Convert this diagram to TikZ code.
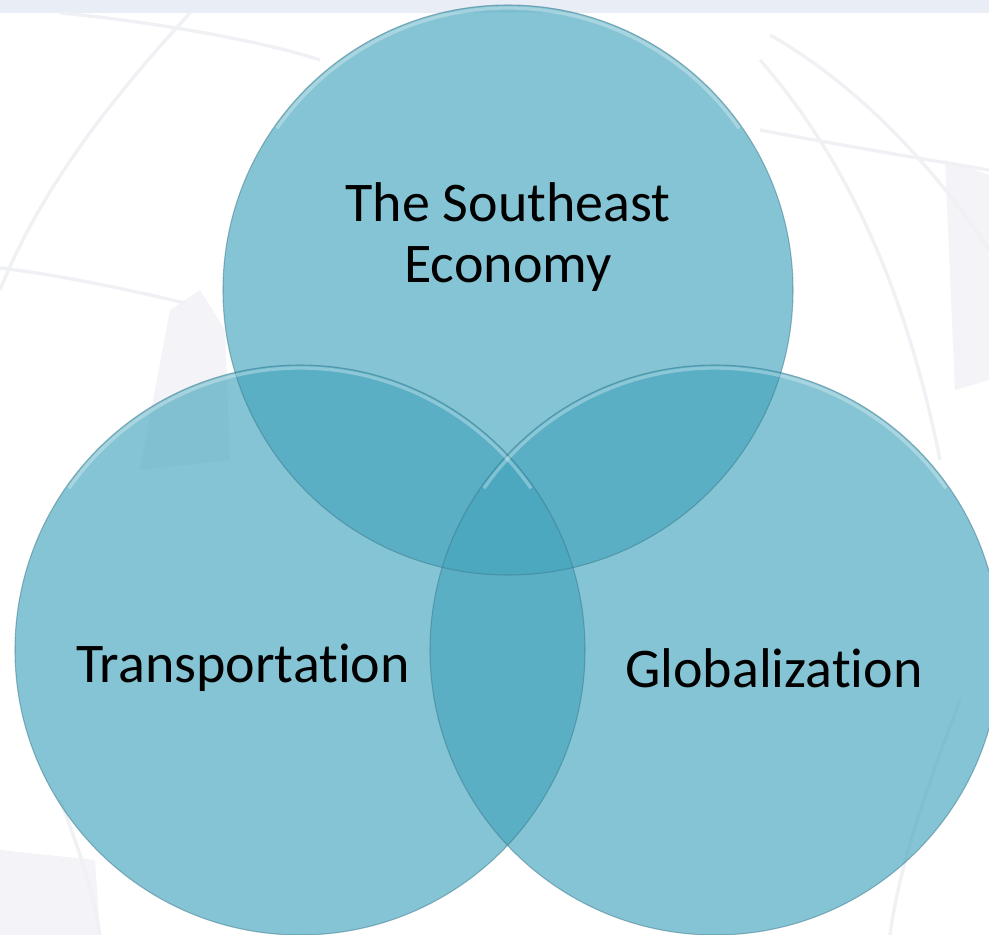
\documentclass[tikz,border=0pt]{standalone}
\usepackage{fontspec}
\setmainfont{Carlito}[Ligatures=NoCommon]
\definecolor{vennteal}{RGB}{68,165,189}
\definecolor{vennedge}{RGB}{60,120,140}
\definecolor{globeline}{RGB}{240,241,245}
\definecolor{globeshade}{RGB}{244,244,248}
\definecolor{topband}{RGB}{233,237,245}
\tikzset{every picture/.style={line width=0.75pt}}
\tikzset{
  venn/.style={fill=vennteal, fill opacity=0.65},
  vennrim/.style={draw=vennedge, draw opacity=0.5, line width=0.8pt},
  vennglow/.style={draw=white, draw opacity=0.3, line width=2.5pt},
  globe/.style={draw=globeline, line width=2.5pt},
  vennlabel/.style={font=\fontsize{42}{45.75}\selectfont, text=black, align=center, inner sep=0pt}
}
\begin{document}
\begin{tikzpicture}[x=0.75pt,y=0.75pt,yscale=-1,xscale=1]
\useasboundingbox (0,0) rectangle (989,935);
%Background
\fill[white] (0,0) rectangle (989,935);
\fill[topband] (0,0) rectangle (989,13);
%Globe shading
\fill[globeshade] (170,310) -- (200,290) -- (225,330) -- (230,460) -- (140,470) -- cycle;
\fill[globeshade] (0,850) -- (95,860) -- (100,935) -- (0,935) -- cycle;
\fill[globeshade] (945,160) -- (989,175) -- (989,380) -- (955,390) -- cycle;
%Globe lines
\draw[globe] (190,13) .. controls (110,100) and (40,190) .. (0,290);
\draw[globe] (0,268) .. controls (60,275) and (130,290) .. (185,303);
\draw[globe] (60,13) .. controls (140,20) and (260,40) .. (320,60);
\draw[globe] (770,35) .. controls (850,80) and (930,160) .. (989,250);
\draw[globe] (760,60) .. controls (830,140) and (900,260) .. (940,460);
\draw[globe] (760,130) .. controls (840,145) and (900,155) .. (989,170);
\draw[globe] (960,700) .. controls (930,780) and (900,860) .. (890,935);
\draw[globe] (60,800) .. controls (80,850) and (95,900) .. (100,935);

%Circles
\fill[venn] (508,290) circle (285);
\fill[venn] (300,650) circle (285);
\fill[venn] (715,650) circle (285);
\draw[vennrim] (508,290) circle (285);
\draw[vennrim] (300,650) circle (285);
\draw[vennrim] (715,650) circle (285);
\draw[vennglow] (508,290) ++(215:282) arc (215:325:282);
\draw[vennglow] (300,650) ++(215:282) arc (215:325:282);
\draw[vennglow] (715,650) ++(215:282) arc (215:325:282);

%Labels
\node[vennlabel] (economy) at (508,237) {The Southeast\\Economy};
\node[vennlabel] (transport) at (243,668) {Transportation};
\node[vennlabel] (global) at (774,668) {Globalization};

\end{tikzpicture}
\end{document}
